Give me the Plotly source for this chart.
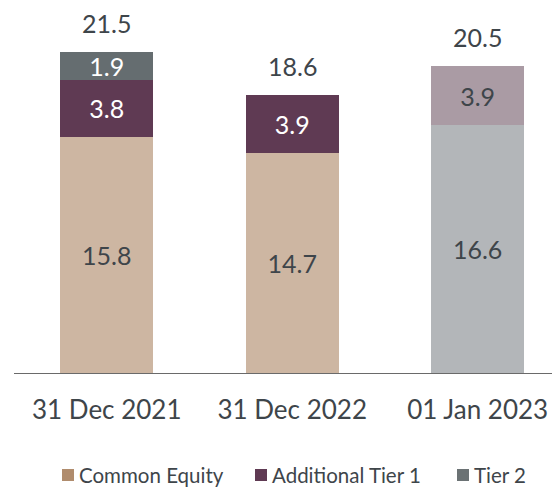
import plotly.graph_objects as go

categories = ["31 Dec 2021", "31 Dec 2022", "01 Jan 2023"]
common_equity = [15.8, 14.7, 16.6]
additional_tier1 = [3.8, 3.9, 3.9]
tier2 = [1.9, None, None]
totals = [21.5, 18.6, 20.5]
legend_names = ["Common Equity", "Additional Tier 1", "Tier 2"]
legend_colors = ["#b08c6d", "#5f3a53", "#6b7274"]

FONT = "Lato"
TXT = "#3e454a"
W, H = 560, 488
ML, MR, MT, MB = 6, 0, 0, 123
PW, PH = W - ML - MR, H - MT - MB

fig = go.Figure()
fig.add_trace(go.Bar(
    x=categories, y=common_equity, name="Common Equity",
    marker=dict(color=["#cdb6a2", "#cdb6a2", "#b3b6b9"], line=dict(width=0)),
    text=[f"{v}" for v in common_equity], textposition="inside",
    insidetextanchor="middle", textfont=dict(color=TXT, size=25, family=FONT),
    showlegend=False,
))
fig.add_trace(go.Bar(
    x=categories, y=additional_tier1, name="Additional Tier 1",
    marker=dict(color=["#5f3a53", "#5f3a53", "#aa9ba4"], line=dict(width=0)),
    text=[f"{v}" for v in additional_tier1], textposition="inside",
    insidetextanchor="middle",
    textfont=dict(color=["white", "white", TXT], size=25, family=FONT),
    showlegend=False,
))
fig.add_trace(go.Bar(
    x=categories, y=tier2, name="Tier 2",
    marker=dict(color="#656d70", line=dict(width=0)),
    text=[f"{v}" if v is not None else "" for v in tier2], textposition="inside",
    insidetextanchor="middle", textfont=dict(color="white", size=25, family=FONT),
    showlegend=False,
))

for c, t in zip(categories, totals):
    fig.add_annotation(x=c, y=t, text=f"{t}", showarrow=False, yanchor="bottom",
                       yshift=12, font=dict(size=25, color=TXT, family=FONT))

# manual legend (figure pixel positions converted to paper coords)
def px(x):
    return (x - ML) / PW

def py(y):
    return (MT + PH - y) / PH

swatch_x = [54, 247, 449]
for sx, nm, col in zip(swatch_x, legend_names, legend_colors):
    fig.add_shape(type="rect", xref="paper", yref="paper",
                  x0=px(sx), x1=px(sx + 12), y0=py(473), y1=py(461),
                  fillcolor=col, line=dict(width=0))
    fig.add_annotation(xref="paper", yref="paper", x=px(sx + 15), y=py(467),
                       text=nm, showarrow=False, xanchor="left", yanchor="middle",
                       font=dict(size=20.5, color=TXT, family=FONT))

fig.update_layout(
    width=W, height=H, barmode="stack", bargap=0.5,
    margin=dict(l=ML, r=MR, t=MT, b=MB),
    paper_bgcolor="white", plot_bgcolor="white",
    font=dict(family=FONT, color=TXT),
    showlegend=False,
    xaxis=dict(range=[-0.5, 2.487], showline=True, linecolor="#6a6a6a", linewidth=1,
               ticks="", tickfont=dict(size=26, color=TXT, family=FONT), showgrid=False,
               ticklabelstandoff=14),
    yaxis=dict(range=[0, 24.41], visible=False, showgrid=False),
    uniformtext=dict(mode="show", minsize=25),
)
fig.write_html("out.html")
